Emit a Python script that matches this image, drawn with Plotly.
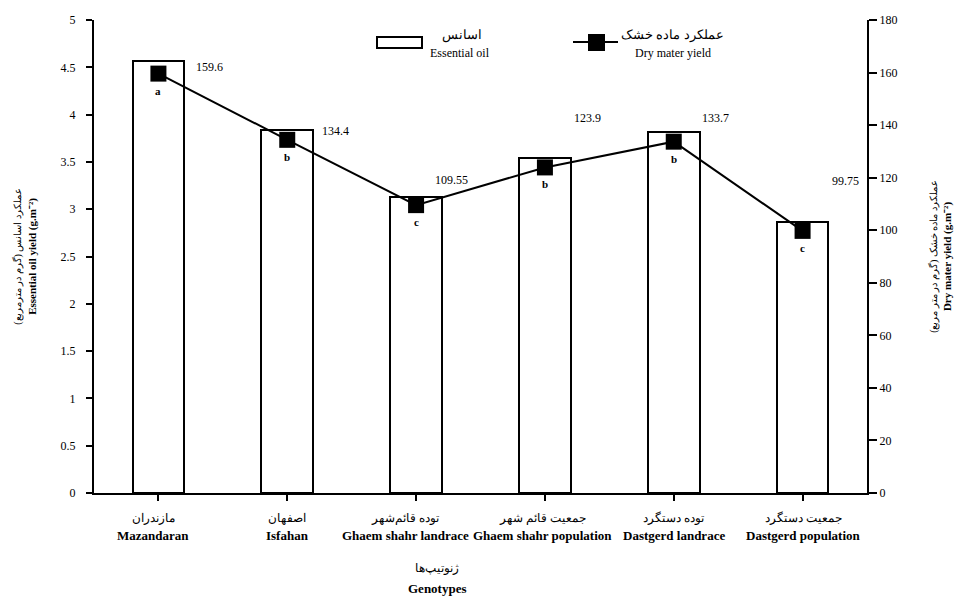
import plotly.graph_objects as go

# ---- data ----
genotypes_fa = ["مازندران", "اصفهان", "توده قائم‌شهر", "جمعیت قائم شهر", "توده دستگرد", "جمعیت دستگرد"]
genotypes_en = ["Mazandaran", "Isfahan", "Ghaem shahr landrace", "Ghaem shahr population",
                "Dastgerd landrace", "Dastgerd population"]
essential_oil = [4.57, 3.84, 3.13, 3.54, 3.82, 2.86]
dry_matter = [159.6, 134.4, 109.55, 123.9, 133.7, 99.75]
dry_matter_labels = ["159.6", "134.4", "109.55", "123.9", "133.7", "99.75"]
letters = ["a", "b", "c", "b", "b", "c"]

# label offsets (pixels)
label_dx = [51, 48, 35, 43, 42, 43]
label_dy = [7, 9, 25, 49, 24, 50]
cat_label_dx = [-5, 0, -11, -2, 0, 1]

SERIF = "Liberation Serif"
W, H = 956, 597
L, R, T, B = 94, 89, 20, 104
pw, ph = W - L - R, H - T - B

def px(x):
    return (x - L) / pw

def py(y):
    return (H - B - y) / ph

xs = list(range(len(genotypes_en)))

fig = go.Figure()
fig.add_trace(go.Bar(
    x=xs, y=essential_oil, width=0.40,
    marker=dict(color="white", line=dict(color="black", width=2)),
    name="Essential oil", showlegend=False, yaxis="y",
))
fig.add_trace(go.Scatter(
    x=xs, y=dry_matter, mode="lines+markers",
    line=dict(color="black", width=2),
    marker=dict(symbol="square", size=16, color="black"),
    name="Dry mater yield", showlegend=False, yaxis="y2",
))

annotations = []
for i in xs:
    annotations.append(dict(
        x=i, y=dry_matter[i], xref="x", yref="y2", text=dry_matter_labels[i],
        showarrow=False, xshift=label_dx[i], yshift=label_dy[i],
        font=dict(family=SERIF, size=12, color="black")))
    annotations.append(dict(
        x=i, y=dry_matter[i], xref="x", yref="y2", text=f"<b>{letters[i]}</b>",
        showarrow=False, yshift=-17,
        font=dict(family=SERIF, size=11, color="black")))
    # category labels (Persian over English)
    annotations.append(dict(
        x=i, y=py(518), xref="x", yref="paper", text=genotypes_fa[i],
        xanchor="center", yanchor="middle", showarrow=False, xshift=cat_label_dx[i],
        font=dict(family=SERIF, size=12, color="black")))
    annotations.append(dict(
        x=i, y=py(535), xref="x", yref="paper", text=f"<b>{genotypes_en[i]}</b>",
        xanchor="center", yanchor="middle", showarrow=False, xshift=cat_label_dx[i],
        font=dict(family=SERIF, size=13, color="black")))

def label(xp, yp, text, size=12):
    annotations.append(dict(
        x=px(xp), y=py(yp), xref="paper", yref="paper", text=text,
        xanchor="center", yanchor="middle", showarrow=False,
        font=dict(family=SERIF, size=size, color="black")))

# x-axis title
label(437, 568, "ژنوتیپ‌ها", 12)
label(437, 588, "<b>Genotypes</b>", 13)

# legend (manual)
label(462, 35, "اسانس", 13)
label(460, 53, "Essential oil", 12)
label(672, 35, "عملکرد ماده خشک", 13)
label(673, 53, "Dry mater yield", 12)

shapes = [
    dict(type="rect", xref="paper", yref="paper", x0=px(377), x1=px(422),
         y0=py(48), y1=py(37), line=dict(color="black", width=2), fillcolor="white"),
    dict(type="line", xref="paper", yref="paper", x0=px(573), x1=px(618),
         y0=py(42), y1=py(42), line=dict(color="black", width=2)),
    dict(type="rect", xref="paper", yref="paper", x0=px(588), x1=px(605),
         y0=py(51), y1=py(34), line=dict(color="black", width=0), fillcolor="black"),
]

fig.update_layout(
    width=W, height=H,
    margin=dict(l=L, r=R, t=T, b=B, autoexpand=False),
    paper_bgcolor="white", plot_bgcolor="white",
    font=dict(family=SERIF, size=12, color="black"),
    bargap=0,
    xaxis=dict(
        tickmode="array", tickvals=xs, ticktext=["" for _ in xs], tickangle=0, automargin=False,
        range=[-0.5, 5.5], showline=True, linecolor="black", linewidth=2,
        ticks="outside", tickson="boundaries", ticklen=6, tickwidth=2, tickcolor="black",
        showgrid=False, zeroline=False,
    ),
    yaxis=dict(
        range=[0, 5], dtick=0.5, showline=True, linecolor="black", linewidth=2, automargin=False,
        ticks="outside", ticklen=6, tickwidth=2, tickcolor="black",
        showgrid=False, zeroline=False, tickfont=dict(family=SERIF, size=12),
        ticklabelstandoff=8,
        title=dict(text="<span style='font-size:10px'>عملکرد اسانس (گرم در مترمربع)</span><br><b>Essential oil yield (g.m⁻²)</b>",
                   font=dict(family=SERIF, size=11), standoff=22),
    ),
    yaxis2=dict(
        range=[0, 180], dtick=20, overlaying="y", side="right", automargin=False,
        showline=True, linecolor="black", linewidth=2,
        ticks="outside", ticklen=8, tickwidth=2, tickcolor="black",
        showgrid=False, zeroline=False, tickfont=dict(family=SERIF, size=12),
        title=dict(text="<span style='font-size:10px'>عملکرد ماده خشک (گرم در متر مربع)</span><br><b>Dry mater yield (g.m⁻²)</b>",
                   font=dict(family=SERIF, size=11), standoff=33),
    ),
    annotations=annotations,
    shapes=shapes,
)

fig.write_html("out.html")
